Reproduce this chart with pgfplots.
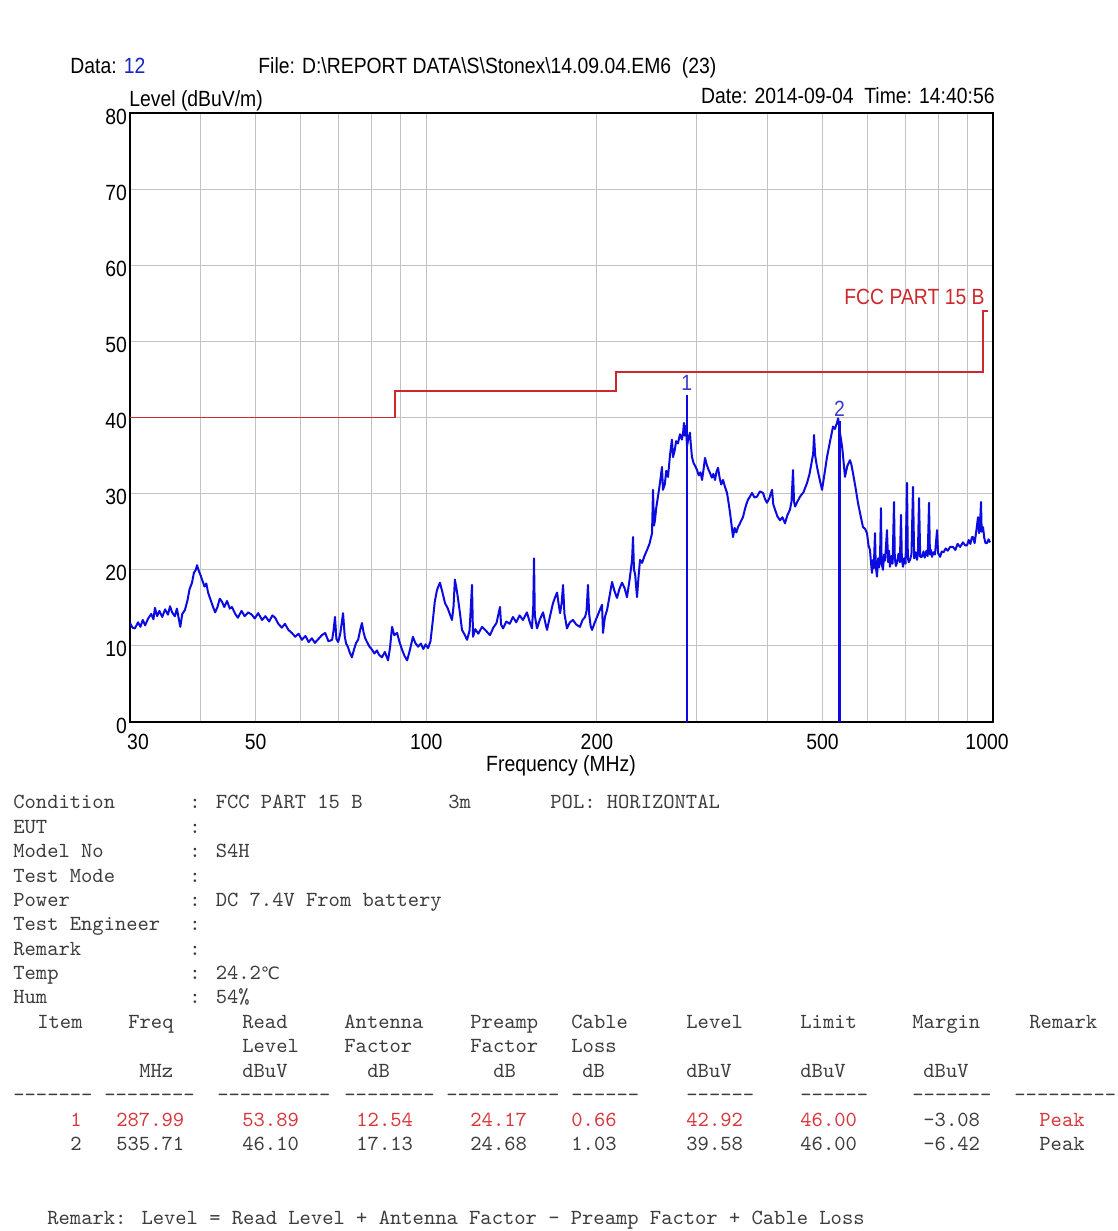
\documentclass[border=0pt]{standalone}
\usepackage{fontspec}
\setmainfont{Liberation Sans}
\newfontfamily\chartfont[FakeStretch=0.88]{Liberation Sans}
\newfontfamily\symfont{DejaVu Sans}
\usepackage{pgfplots}
\pgfplotsset{compat=1.18}
\definecolor{trace}{RGB}{10,10,225}
\definecolor{limitred}{RGB}{205,40,45}
\definecolor{gridgray}{RGB}{195,195,195}
\definecolor{monogray}{RGB}{60,60,60}
\definecolor{rowred}{RGB}{215,55,60}
\definecolor{mkblue}{RGB}{60,60,200}
\definecolor{datablue}{RGB}{20,40,190}
\newcommand\cf{\chartfont\fontsize{11}{13}\selectfont}
\newcommand\mf{\ttfamily\fontsize{10.76}{12}\selectfont}
\newcommand\mt[4][monogray]{\node[anchor=base west, inner sep=0, text=#1] at (#2,#3) {\mf #4};}
\begin{document}
\begin{tikzpicture}
\useasboundingbox (0,0) rectangle (559pt,-615.5pt);
\fill[white] (0,0) rectangle (559pt,-615.5pt);
\begin{axis}[
  at={(65pt,-361pt)}, anchor=south west,
  scale only axis, width=431.5pt, height=304.5pt,
  xmode=log, xmin=30, xmax=1000, ymin=0, ymax=80,
  xtick={30,50,100,200,500,1000},
  xticklabels={\makebox[0pt]{\hspace{8pt}30},50,100,200,500,\makebox[0pt]{1000\hspace{6pt}}},
  minor xtick={40,60,70,80,90,300,400,600,700,800,900},
  ytick={0,10,20,30,40,50,60,70,80},
  grid=both,
  major grid style={gridgray, line width=0.5pt},
  minor grid style={gridgray, line width=0.5pt},
  major tick length=0pt, minor tick length=0pt,
  axis line style={black, line width=0.8pt},
  tick label style={font=\cf},
  /pgf/number format/assume math mode=true,
  xticklabel style={yshift=-2.5pt},
  yticklabel style={xshift=2pt, yshift=-1.75pt},
]
\addplot[limitred, line width=0.7pt] coordinates {(30,40) (88,40) (88,43.5) (216,43.5) (216,46) (960,46) (960,54) (978,54)};
\addplot[trace, line width=1pt, line join=round] table {
f L
30 13.0
30.3 12.4
30.6 12.3
31.0 13.1
31.3 12.5
31.6 13.4
31.9 12.7
32.3 13.6
32.7 14.2
33.0 13.5
33.2 15.0
33.5 13.9
33.8 14.6
34.2 13.8
34.6 14.8
35.0 14.1
35.3 15.2
35.6 14.4
36.0 13.9
36.3 14.9
36.8 12.5
37.1 14.2
37.5 14.7
37.9 16.0
38.2 17.4
38.6 18.3
38.9 19.6
39.2 20.0
39.4 20.6
39.7 19.8
40.0 19.2
40.2 18.7
40.6 17.8
40.9 18.2
41.2 17.0
41.6 16.1
42.0 15.2
42.4 14.4
42.8 15.1
43.2 16.2
43.6 15.8
44.0 15.1
44.5 15.9
45.0 14.9
45.4 15.1
46.0 14.2
46.5 13.7
47.2 14.6
47.8 13.9
48.5 14.4
49.2 14.1
49.8 13.6
50.5 14.3
51.3 13.4
52.0 13.9
52.8 13.2
53.5 14.0
54.1 13.7
54.8 12.9
55.6 12.4
56.3 12.9
57.1 12.1
57.9 11.7
58.7 11.2
59.5 11.6
60.3 10.8
61.2 11.3
62.0 10.5
62.8 11.0
63.6 10.4
64.5 10.9
65.4 11.4
66.3 11.7
67.2 10.6
68.2 10.8
68.6 12.0
69.0 13.8
69.4 10.9
69.9 10.5
70.5 11.6
71.3 14.3
71.8 11.2
72.2 10.3
72.7 9.9
73.3 9.1
73.9 8.5
74.6 9.6
75.2 10.4
75.8 10.8
76.4 12.0
77.0 13.0
77.5 11.8
78.0 11.0
78.6 10.5
79.4 9.9
80.2 9.5
81.0 9.0
81.8 9.4
82.6 8.8
83.5 8.5
84.5 9.2
85.6 8.1
86.3 9.8
87.0 12.5
87.8 11.4
88.8 11.7
89.6 10.6
90.6 9.5
91.5 8.7
92.5 8.1
93.5 9.4
94.7 11.2
95.6 10.4
96.7 9.9
97.8 10.3
98.8 9.6
99.7 10.2
100.7 9.7
101.7 10.6
102.7 13.4
103.5 15.8
104.4 17.3
105.0 17.8
105.7 18.3
106.8 17.0
107.9 15.6
109.0 15.0
110.0 14.2
111.0 13.4
111.7 15.2
112.3 18.7
113.0 17.6
113.7 16.3
114.6 14.4
115.6 12.1
116.8 11.5
118.0 10.8
119.2 12.0
120.4 18.0
120.9 11.2
122.0 12.2
123.5 11.6
125.4 12.5
127.4 12.0
129.5 11.4
131.3 12.4
133.0 13.0
134.9 15.1
135.5 12.8
136.6 12.3
138.4 13.2
140.3 12.9
142.2 13.8
144.1 13.1
146.1 14.0
148.1 13.4
150.5 14.4
152.0 13.3
153.6 12.3
154.4 15.0
154.9 21.5
155.4 14.0
156.8 12.3
158.7 13.5
160.7 14.4
162.0 13.2
163.3 12.1
165.3 13.9
167.3 15.6
168.8 16.4
170.1 17.0
171.2 15.5
172.2 14.3
173.3 15.6
174.3 18.0
175.3 14.2
177.1 12.3
179.2 13.1
181.5 13.4
183.9 12.8
186.7 12.5
188.7 13.4
190.6 13.8
191.8 14.6
192.9 18.0
193.8 14.2
195.0 12.6
196.1 12.1
198.1 13.0
200.1 13.8
202.1 14.6
204.2 15.4
205.0 11.7
206.6 13.8
208.4 14.7
210.5 16.5
212.7 18.4
214.8 17.2
217.0 16.3
219.2 17.5
221.5 18.3
223.8 17.6
226.0 16.4
228.3 18.6
230.7 21.3
231.6 24.3
232.5 20.0
233.6 19.4
235.4 16.4
236.8 19.0
238.3 21.3
240.3 20.9
242.6 21.8
245.2 22.6
247.6 23.4
250.2 24.8
251.2 30.5
252.2 25.8
253.2 26.5
254.6 28.2
256.3 29.6
258.4 31.4
260.5 33.5
261.6 30.5
263.5 31.2
265.1 33.0
267.0 32.2
269.1 35.0
271.3 37.1
272.5 34.8
274.2 35.6
276.0 36.9
278.0 36.6
280.3 37.8
282.6 37.1
284.0 38.2
284.9 39.3
286.0 37.6
287.2 38.9
288.4 36.2
289.9 37.2
291.9 38.0
292.9 36.5
294.3 34.8
296.3 34.0
298.3 33.6
300.4 33.1
302.5 32.4
304.6 32.8
306.6 31.8
308.5 33.2
310.3 34.7
312.5 33.8
314.6 33.2
316.7 32.7
319.1 32.1
321.0 32.6
323.2 31.8
325.2 32.9
327.2 33.4
329.4 32.0
331.5 31.2
333.9 31.8
336.5 30.9
339.3 30.1
341.2 29.0
343.5 27.5
345.5 26.0
347.7 24.3
350.0 25.5
352.4 24.9
354.8 25.6
357.2 26.0
359.7 26.5
362.1 26.9
364.5 27.8
367.0 28.6
369.5 29.2
372.5 29.6
375.6 30.1
379.4 29.5
383.3 29.6
388.0 30.3
392.8 30.1
396.0 29.3
399.2 28.8
403.0 29.4
407.4 30.5
409.5 28.6
412.4 27.9
416.5 27.0
420.9 26.5
425.0 26.9
429.5 26.1
433.8 27.2
438.3 27.9
441.0 29.0
443.7 33.1
445.5 29.0
447.4 28.3
452.0 29.0
456.5 29.6
463.0 30.2
469.7 31.4
474.5 32.6
479.3 34.4
481.5 35.2
483.2 37.7
485.5 35.0
489.1 33.5
494.0 32.0
499.2 30.5
504.0 32.5
509.4 34.8
515.5 36.8
522.0 38.8
526.0 38.5
530.5 39.3
533.0 39.9
537.0 38.0
542.0 36.0
548.0 32.2
553.0 33.6
559.2 34.4
562.5 33.8
566.1 32.7
572.0 30.8
577.7 28.8
583.5 27.2
589.6 25.6
594.5 25.4
599.3 24.8
603.0 23.2
606.6 22.6
609.0 21.0
611.6 19.6
614.0 21.3
616.0 20.2
619.1 24.8
621.0 20.5
624.1 19.1
627.0 21.5
629.5 20.3
632.0 22.0
634.3 28.1
636.0 20.8
639.5 20.0
642.5 22.0
645.0 21.2
650.0 25.2
653.0 21.0
655.5 22.5
658.0 20.4
661.5 21.8
665.0 20.8
668.8 28.9
671.0 21.5
674.0 20.5
677.0 20.9
681.0 22.1
685.0 21.0
688.1 27.2
690.5 21.4
693.7 20.4
697.0 21.5
701.0 20.8
705.1 31.4
707.5 21.6
710.0 21.0
713.7 21.3
718.0 22.0
722.5 30.9
726.0 21.5
730.0 22.3
734.4 21.3
737.0 22.0
740.4 29.4
744.0 21.7
749.5 21.7
754.0 22.4
758.0 21.6
763.0 22.5
767.0 21.8
771.1 28.8
774.0 22.0
777.0 22.6
780.6 21.7
785.0 22.3
790.0 22.0
796.6 25.2
800.0 22.2
806.4 21.7
812.0 22.4
818.0 22.3
825.0 22.8
832.0 22.5
840.0 23.0
850.1 23.0
858.0 22.6
866.0 23.4
875.0 23.0
885.0 23.6
893.0 23.2
899.8 23.2
906.0 23.9
912.0 23.4
918.0 24.3
922.0 24.3
928.0 23.5
934.0 25.0
940.9 26.9
945.0 24.8
948.0 25.5
952.4 28.9
955.0 25.0
960.2 25.6
965.0 24.2
970.0 23.5
976.0 23.5
982.0 24.0
988.0 23.6
};
\addplot[trace, line width=1.1pt] coordinates {(287.99,0) (287.99,42.92)};
\addplot[trace, line width=1.1pt] coordinates {(535.71,0) (535.71,39.58)};
\node[anchor=south, inner sep=0, text=mkblue, yshift=2pt] at (axis cs:287.99,42.92) {\cf 1};
\node[anchor=south, inner sep=0, text=mkblue, yshift=2pt] at (axis cs:535.71,39.58) {\cf 2};
\end{axis}
\begin{scope}[x=0.5pt, y=-0.5pt]
\node[anchor=base west, inner sep=0] at (70,73) {\cf Data: \textcolor{datablue}{12}};
\node[anchor=base west, inner sep=0] at (258,73) {\cf File: D:\textbackslash REPORT DATA\textbackslash S\textbackslash Stonex\textbackslash 14.09.04.EM6\ \ (23)};
\node[anchor=base west, inner sep=0] at (129,106) {\cf Level (dBuV/m)};
\node[anchor=base east, inner sep=0] at (995,103) {\cf Date: 2014-09-04\ \ Time: 14:40:56};
\node[anchor=base, inner sep=0] at (561,771) {\cf Frequency (MHz)};
\node[anchor=base east, inner sep=0, text=limitred] at (985,304) {\cf FCC PART 15 B};
% info block
\mt{13}{808}{Condition}
\mt{189}{808}{: FCC PART 15 B}
\mt{448}{808}{3m}
\mt{550}{808}{POL: HORIZONTAL}
\mt{13}{833}{EUT}
\mt{189}{833}{:}
\mt{13}{857}{Model No}
\mt{189}{857}{: S4H}
\mt{13}{882}{Test Mode}
\mt{189}{882}{:}
\mt{13}{906}{Power}
\mt{189}{906}{: DC 7.4V From battery}
\mt{13}{930}{Test Engineer}
\mt{189}{930}{:}
\mt{13}{955}{Remark}
\mt{189}{955}{:}
\mt{13}{979}{Temp}
\mt{189}{979}{: 24.2{\symfont\fontsize{8.5}{10}\selectfont ℃}}
\mt{13}{1003}{Hum}
\mt{189}{1003}{: 54\%}
% table header
\mt{37}{1028}{Item}
\mt{128}{1028}{Freq}
\mt{242}{1028}{Read}
\mt{344}{1028}{Antenna}
\mt{470}{1028}{Preamp}
\mt{571}{1028}{Cable}
\mt{686}{1028}{Level}
\mt{800}{1028}{Limit}
\mt{912}{1028}{Margin}
\mt{1029}{1028}{Remark}
\mt{242}{1052}{Level}
\mt{344}{1052}{Factor}
\mt{470}{1052}{Factor}
\mt{571}{1052}{Loss}
\mt{139}{1077}{MHz}
\mt{242}{1077}{dBuV}
\mt{367}{1077}{dB}
\mt{493}{1077}{dB}
\mt{582}{1077}{dB}
\mt{686}{1077}{dBuV}
\mt{800}{1077}{dBuV}
\mt{923}{1077}{dBuV}
\mt{13}{1101}{-------}
\mt{104}{1101}{--------}
\mt{217}{1101}{----------}
\mt{344}{1101}{--------}
\mt{446}{1101}{----------}
\mt{571}{1101}{------}
\mt{686}{1101}{------}
\mt{800}{1101}{------}
\mt{912}{1101}{-------}
\mt{1014}{1101}{---------}
% row 1
\mt[rowred]{70}{1126}{1}
\mt[rowred]{116}{1126}{287.99}
\mt[rowred]{242}{1126}{53.89}
\mt[rowred]{356}{1126}{12.54}
\mt[rowred]{470}{1126}{24.17}
\mt[rowred]{571}{1126}{0.66}
\mt[rowred]{686}{1126}{42.92}
\mt[rowred]{800}{1126}{46.00}
\mt{923}{1126}{-3.08}
\mt[rowred]{1039}{1126}{Peak}
% row 2
\mt{70}{1150}{2}
\mt{116}{1150}{535.71}
\mt{242}{1150}{46.10}
\mt{356}{1150}{17.13}
\mt{470}{1150}{24.68}
\mt{571}{1150}{1.03}
\mt{686}{1150}{39.58}
\mt{800}{1150}{46.00}
\mt{923}{1150}{-6.42}
\mt{1039}{1150}{Peak}
\mt{47}{1224}{Remark: Level = Read Level + Antenna Factor - Preamp Factor + Cable Loss}
\end{scope}
\end{tikzpicture}
\end{document}
